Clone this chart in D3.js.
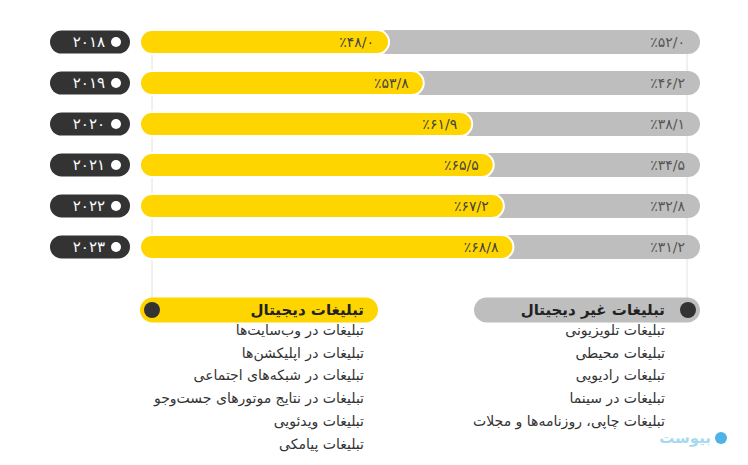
<!DOCTYPE html>
<html>
<head>
<meta charset="utf-8">
<script src="https://cdn.jsdelivr.net/npm/d3@7"></script>
<style>
  body { margin: 0; background: #fff; }
  svg text { font-family: "DejaVu Sans", sans-serif; }
</style>
</head>
<body>
<div id="chart"></div>
<script>
// data
var years = [2018, 2019, 2020, 2021, 2022, 2023];
var digital = [48.0, 53.8, 61.9, 65.5, 67.2, 68.8];
var nonDigital = [52.0, 46.2, 38.1, 34.5, 32.8, 31.2];
var digitalItems = ["تبلیغات در وب‌سایت‌ها", "تبلیغات در اپلیکشن‌ها", "تبلیغات در شبکه‌های اجتماعی",
  "تبلیغات در نتایج موتورهای جست‌وجو", "تبلیغات ویدئویی", "تبلیغات پیامکی"];
var nonDigitalItems = ["تبلیغات تلویزیونی", "تبلیغات محیطی", "تبلیغات رادیویی",
  "تبلیغات در سینما", "تبلیغات چاپی، روزنامه‌ها و مجلات"];
var digitalTitle = "تبلیغات دیجیتال";
var nonDigitalTitle = "تبلیغات غیر دیجیتال";

var W = 748, H = 465;
var YELLOW = "#FFD500", GRAY = "#BEBEBE", DARK = "#333333";

var rows = years.map(function(y, i){ return {year: y, d: digital[i], n: nonDigital[i]}; });

function fa(s){
  return String(s).replace(/[0-9]/g, function(c){ return "۰۱۲۳۴۵۶۷۸۹"[+c]; });
}
function pct(v){ return "٪" + fa(v.toFixed(1).replace(".", "/")); }

var svg = d3.select("#chart").append("svg").attr("width", W).attr("height", H);

var trackLeft = 140, barH = 24;
var x = d3.scaleLinear().domain([0, 100]).range([102, 700]);
var y = d3.scaleBand().domain(years).range([30, 259]).paddingInner(0.41).paddingOuter(0);

// guide lines
svg.selectAll("line.guide")
  .data([trackLeft + 12, x(100) - 13])
  .enter().append("line")
  .attr("x1", function(d){ return d; }).attr("x2", function(d){ return d; })
  .attr("y1", 40).attr("y2", 300)
  .attr("stroke", "#e2e2e2").attr("stroke-width", 1);

var g = svg.selectAll("g.row").data(rows).enter().append("g")
  .attr("transform", function(d){ return "translate(0," + (y(d.year) + y.bandwidth()/2) + ")"; });

// gray (non digital)
g.append("rect")
  .attr("x", function(d){ return x(d.d) - 14; })
  .attr("width", function(d){ return x(d.d + d.n) - x(d.d) + 14; })
  .attr("y", -barH/2).attr("height", barH)
  .attr("rx", barH/2).attr("fill", GRAY);

// yellow (digital)
g.append("rect")
  .attr("x", trackLeft)
  .attr("width", function(d){ return x(d.d) - trackLeft; })
  .attr("y", -barH/2).attr("height", barH)
  .attr("rx", barH/2).attr("fill", YELLOW)
  .attr("stroke", "#fff").attr("stroke-width", 2);

g.append("text")
  .attr("x", function(d){ return x(d.d) - 15; })
  .attr("y", 5)
  .attr("text-anchor", "end").attr("direction", "ltr")
  .attr("font-size", 14).attr("fill", "#444")
  .text(function(d){ return pct(d.d); });

g.append("text")
  .attr("x", x(100) - 15)
  .attr("y", 5)
  .attr("text-anchor", "end").attr("direction", "ltr")
  .attr("font-size", 14).attr("fill", "#555")
  .text(function(d){ return pct(d.n); });

// year pills
g.append("rect")
  .attr("x", 50).attr("width", 80)
  .attr("y", -barH/2 + 0.5).attr("height", barH - 1)
  .attr("rx", 11.5).attr("fill", DARK);
g.append("circle").attr("cx", 116).attr("cy", 0).attr("r", 5).attr("fill", "#fff");
g.append("text")
  .attr("x", 105).attr("y", 5)
  .attr("text-anchor", "end").attr("direction", "ltr")
  .attr("font-size", 15).attr("fill", "#fff")
  .text(function(d){ return fa(d.year); });

// legends
var legends = [
  {title: digitalTitle, items: digitalItems, x0: 140, x1: 378, fill: YELLOW, dot: 152, tx: 364},
  {title: nonDigitalTitle, items: nonDigitalItems, x0: 474, x1: 700, fill: GRAY, dot: 688, tx: 665}
];
var ly = 310, step = 22.7;
legends.forEach(function(L){
  var lg = svg.append("g");
  lg.append("rect").attr("x", L.x0).attr("width", L.x1 - L.x0)
    .attr("y", ly - 12.5).attr("height", 25).attr("rx", 12.5).attr("fill", L.fill);
  lg.append("circle").attr("cx", L.dot).attr("cy", ly).attr("r", 8).attr("fill", DARK);
  lg.append("text").attr("x", L.tx).attr("y", ly + 5)
    .attr("text-anchor", "start").attr("direction", "rtl")
    .attr("font-size", 15).attr("font-weight", "bold").attr("fill", "#222")
    .text(L.title);
  lg.selectAll("text.item").data(L.items).enter().append("text")
    .attr("class", "item")
    .attr("x", L.tx)
    .attr("y", function(d, i){ return ly + 25 + i * step; })
    .attr("text-anchor", "start").attr("direction", "rtl")
    .attr("font-size", 14).attr("fill", "#333")
    .text(function(d){ return d; });
});

// logo
svg.append("circle").attr("cx", 721).attr("cy", 438).attr("r", 6).attr("fill", "#4fb3e6");
svg.append("text").attr("x", 711).attr("y", 443)
  .attr("text-anchor", "start").attr("direction", "rtl")
  .attr("font-size", 15).attr("font-weight", "bold").attr("fill", "#a6d8f0")
  .text("بیوست");
</script>
</body>
</html>
